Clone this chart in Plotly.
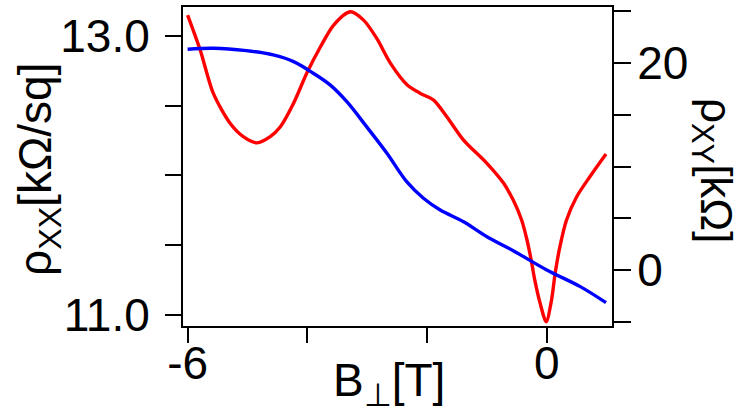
import plotly.graph_objects as go

# rho_xx (left axis), kOhm/sq
b_xx = [-6.0, -5.79, -5.57, -5.29, -5.07, -4.84, -4.62, -4.45, -4.23, -4.01, -3.78, -3.56,
        -3.28, -3.06, -2.84, -2.61, -2.33, -2.11, -1.89, -1.67, -1.39, -1.00, -0.72, -0.56,
        -0.42, -0.33, -0.26, -0.20, -0.11, -0.01, 0.08, 0.14, 0.22, 0.33, 0.50, 0.72, 0.99]
rho_xx = [13.148, 12.898, 12.587, 12.373, 12.277, 12.233, 12.277, 12.348, 12.516, 12.731,
          12.921, 13.077, 13.172, 13.112, 12.981, 12.802, 12.647, 12.587, 12.539, 12.420,
          12.253, 12.086, 11.943, 11.823, 11.680, 11.537, 11.393, 11.250, 11.083, 10.951,
          11.107, 11.298, 11.489, 11.680, 11.847, 11.990, 12.153]

# rho_xy (right axis), kOhm
b_xy = [-6.0, -5.57, -5.02, -4.57, -4.23, -3.90, -3.62, -3.34, -3.01, -2.67, -2.34, -2.06,
        -1.78, -1.39, -1.00, -0.56, 0.00, 0.56, 0.99]
rho_xy = [21.33, 21.43, 21.2, 20.78, 20.14, 19.02, 17.89, 16.27, 13.86, 11.29, 8.55, 6.95,
          5.82, 4.69, 3.24, 1.89, 0.03, -1.58, -3.13]

x_tickvals = [-6, -4, -2, 0]
x_ticktext = ["-6", "", "", "0"]
y_tickvals = [11.0, 11.5, 12.0, 12.5, 13.0]
y_ticktext = ["11.0", "", "", "", "13.0"]
y2_tickvals = [-5, 0, 5, 10, 15, 20, 25]
y2_ticktext = ["", "0", "", "", "", "20", ""]

FONT = "Liberation Sans, Arial, sans-serif"

fig = go.Figure()
fig.add_trace(go.Scatter(x=b_xx, y=rho_xx, mode="lines", line=dict(color="#ff0000", width=3.4, shape="spline", smoothing=0.8),
                         yaxis="y", showlegend=False))
fig.add_trace(go.Scatter(x=b_xy, y=rho_xy, mode="lines", line=dict(color="#0000ff", width=3.4, shape="spline"),
                         yaxis="y2", showlegend=False))

axis_common = dict(showgrid=False, zeroline=False, showline=True, linecolor="black", linewidth=2,
                   ticks="outside", tickcolor="black", tickwidth=2, automargin=False,
                   tickfont=dict(family=FONT, size=46, color="black"))

L, R, T, B = 183, 128, 7, 90
fig.update_layout(
    width=740, height=416,
    margin=dict(l=L, r=R, t=T, b=B),
    paper_bgcolor="white", plot_bgcolor="white",
    xaxis=dict(range=[-6.077, 1.09], tickvals=x_tickvals, ticktext=x_ticktext, ticklen=15,
               ticklabelstandoff=-19, mirror=True, **axis_common),
    yaxis=dict(range=[10.921, 13.206], tickvals=y_tickvals, ticktext=y_ticktext, ticklen=16,
               ticklabelstandoff=6, **axis_common),
    yaxis2=dict(range=[-5.38, 25.41], tickvals=y2_tickvals, ticktext=y2_ticktext, ticklen=17,
                ticklabelstandoff=-3, overlaying="y", side="right", **axis_common),
)

pw = 740 - L - R
ph = 416 - T - B

def ann(text, px, py, angle, size=46):
    fig.add_annotation(text=text, x=(px - L) / pw, y=(416 - B - py) / ph, xref="paper", yref="paper",
                       xanchor="center", yanchor="middle", showarrow=False, textangle=angle,
                       font=dict(family=FONT, size=size, color="black"))

ann("ρ<sub>XX</sub>[kΩ/sq]", 38, 170, -90)
ann("ρ<sub>XY</sub>[kΩ]", 713, 170, 90, 44)
ann("B<sub>⊥</sub>[T]", 389, 383, 0)

fig.write_html("out.html", config={"displayModeBar": False},
               post_script="document.body.style.margin='0';document.body.style.overflow='hidden';")
